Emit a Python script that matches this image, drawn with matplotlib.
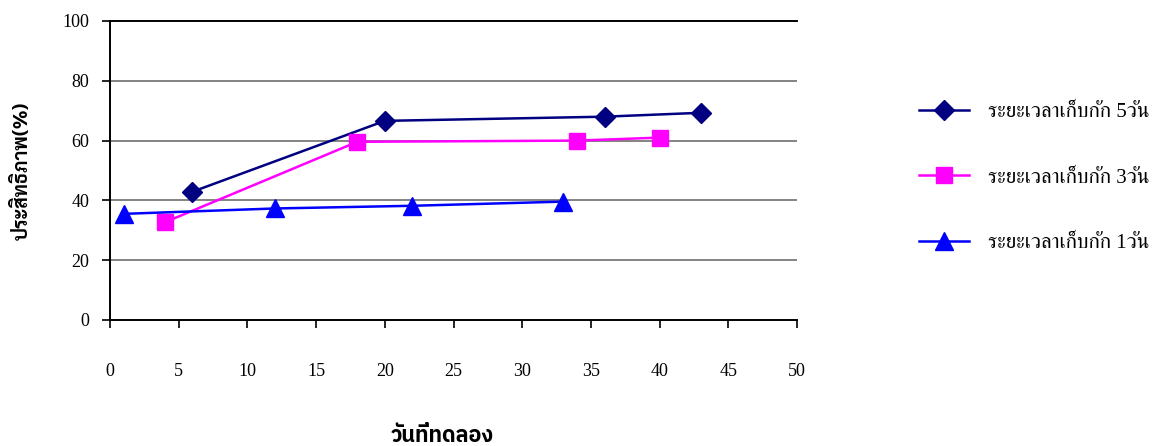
import matplotlib
matplotlib.use("Agg")
import matplotlib.pyplot as plt

# storage-time series: day of trial vs efficiency (%)
days_5 = [6, 20, 36, 43]
eff_5 = [42.9, 66.6, 68.0, 69.3]

days_3 = [4, 18, 34, 40]
eff_3 = [32.7, 59.6, 60.0, 61.0]

days_1 = [1, 12, 22, 33]
eff_1 = [35.5, 37.3, 38.2, 39.6]

labels = ["ระยะเวลาเก็บกัก 5วัน", "ระยะเวลาเก็บกัก 3วัน", "ระยะเวลาเก็บกัก 1วัน"]
x_ticks = [0, 5, 10, 15, 20, 25, 30, 35, 40, 45, 50]
y_ticks = [0, 20, 40, 60, 80, 100]

SERIF = ["Liberation Serif", "FreeSerif"]

fig = plt.figure(figsize=(11.56, 4.46), dpi=100)
ax = fig.add_axes([110 / 1156, 1 - 320 / 446, (797 - 110) / 1156, (320 - 21) / 446])

ax.plot(days_5, eff_5, color="#000080", lw=1.8, marker="D", ms=10,
        label=labels[0], zorder=4)
ax.plot(days_3, eff_3, color="#FF00FF", lw=1.8, marker="s", ms=11,
        label=labels[1], zorder=4)
ax.plot(days_1, eff_1, color="#0000FF", lw=1.8, marker="^", ms=13,
        label=labels[2], zorder=4)

ax.set_xlim(0, 50)
ax.set_ylim(0, 100)
ax.set_xticks(x_ticks)
ax.set_yticks(y_ticks)
ax.set_xticklabels([str(t) for t in x_ticks], family=SERIF, fontsize=13)
ax.set_yticklabels([str(t) for t in y_ticks], family=SERIF, fontsize=13)
ax.tick_params(axis="x", direction="out", length=6, width=1.2, pad=25)
ax.tick_params(axis="y", direction="out", length=6, width=1.2, pad=9)

for y in y_ticks[1:-1]:
    ax.axhline(y, color="#6e6e6e", lw=1.2, zorder=1)

for side in ("left", "bottom", "top"):
    ax.spines[side].set_color("black")
    ax.spines[side].set_linewidth(1.4)
ax.spines["right"].set_visible(False)

ax.set_ylabel("ประสิทธิภาพ(%)", family=["Sarabun", "DejaVu Sans"],
              fontweight="bold", fontsize=14)
ax.yaxis.set_label_coords(-78 / 687, 0.5)
fig.text(442 / 1156, 1 - 435 / 446, "วันที่ทดลอง",
         family=["IBM Plex Sans Thai", "DejaVu Sans"],
         fontweight="bold", fontsize=15.5, ha="center", va="center")

leg = ax.legend(loc="center left", bbox_to_anchor=(900 / 1156, 1 - 178 / 446),
                bbox_transform=fig.transFigure, frameon=False,
                prop={"family": SERIF, "size": 15},
                handlelength=2.4, handletextpad=0.9, labelspacing=2.2)

fig.savefig("out.png", dpi=100)
